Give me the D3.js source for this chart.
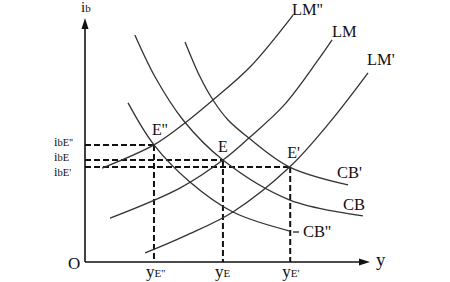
<!DOCTYPE html>
<html>
<head>
<meta charset="utf-8">
<script src="https://cdn.jsdelivr.net/npm/d3@7"></script>
<style>
  body { margin: 0; background: #fff; }
  text { font-family: "Liberation Serif", "DejaVu Serif", serif; fill: #111; }
</style>
</head>
<body>
<svg class="chart"></svg>
<script>
// Curves in chart units (x: output y, y: interest rate ib)
const lmDoublePrime = [[6.0, 38.5], [24.2, 48.0], [35.1, 57.0], [45.3, 66.8], [57.9, 79.9], [73.0, 101.2]];
const lm = [[8.8, 18.0], [33.3, 30.3], [48.4, 41.8], [57.5, 50.8], [70.0, 64.5], [81.8, 82.8], [86.7, 91.0]];
const lmPrime = [[21.1, 3.7], [35.1, 10.7], [51.9, 20.5], [71.8, 38.9], [86.0, 57.4], [99.3, 77.5]];
const cbDoublePrime = [[15.1, 65.2], [24.2, 48.0], [36.8, 32.8], [51.9, 20.5], [71.9, 12.7]];
const cb = [[17.5, 93.0], [24.6, 75.8], [34.4, 58.2], [48.4, 41.8], [71.9, 25.4], [97.5, 18.9]];
const cbPrime = [[35.1, 90.2], [40.4, 75.8], [44.9, 66.4], [50.2, 58.2], [57.5, 50.8], [71.8, 38.9], [92.3, 31.6]];

// Equilibrium points
const equilibria = [
  { name: "E''", x: 24.2, y: 48.0, sub: "E''" },
  { name: 'E', x: 48.4, y: 41.8, sub: 'E' },
  { name: "E'", x: 72.0, y: 38.9, sub: "E'" }
];

// Curve labels
const curves = [
  { data: lmDoublePrime, label: "LM''" },
  { data: lm, label: 'LM' },
  { data: lmPrime, label: "LM'" },
  { data: cbDoublePrime, label: "CB''" },
  { data: cb, label: 'CB' },
  { data: cbPrime, label: "CB'" }
];

const svgWidth = 450;
const svgHeight = 282;

const svg = d3.select('.chart')
  .attr('width', svgWidth)
  .attr('height', svgHeight);

// Origin at (85, 262), arrows at x = 370 and y = 18
const xScale = d3.scaleLinear().domain([0, 100]).range([85, 370]);
const yScale = d3.scaleLinear().domain([0, 100]).range([262, 18]);

const line = d3.line()
  .x(d => xScale(d[0]))
  .y(d => yScale(d[1]))
  .curve(d3.curveCatmullRom);

// Dashed guide lines
equilibria.forEach(d => {
  svg.append('line')
    .attr('x1', xScale(0)).attr('y1', yScale(d.y))
    .attr('x2', xScale(d.x)).attr('y2', yScale(d.y))
    .attr('stroke', '#111').attr('stroke-width', 2)
    .attr('stroke-dasharray', '6 3');
  svg.append('line')
    .attr('x1', xScale(d.x)).attr('y1', yScale(d.y))
    .attr('x2', xScale(d.x)).attr('y2', yScale(0))
    .attr('stroke', '#111').attr('stroke-width', 2)
    .attr('stroke-dasharray', '6 3');
});

// Curves
curves.forEach(c => {
  svg.append('path')
    .datum(c.data)
    .attr('fill', 'none')
    .attr('stroke', '#333')
    .attr('stroke-width', 1.3)
    .attr('d', line);
});

// Axes
svg.append('line')
  .attr('x1', xScale(0)).attr('y1', yScale(0))
  .attr('x2', xScale(0)).attr('y2', yScale(100) + 8)
  .attr('stroke', '#111').attr('stroke-width', 1.6);
svg.append('path')
  .attr('d', `M${xScale(0)},${yScale(100)} l-3.5,11 l7,0 z`)
  .attr('fill', '#111');

svg.append('line')
  .attr('x1', xScale(0)).attr('y1', yScale(0))
  .attr('x2', xScale(100) - 8).attr('y2', yScale(0))
  .attr('stroke', '#111').attr('stroke-width', 1.6);
svg.append('path')
  .attr('d', `M${xScale(100)},${yScale(0)} l-11,-3.5 l0,7 z`)
  .attr('fill', '#111');

// Axis titles
const ib = svg.append('text').attr('x', 81).attr('y', 12).attr('font-size', '15px');
ib.append('tspan').text('i');
ib.append('tspan').attr('font-size', '11px').text('b');

svg.append('text').attr('x', 68).attr('y', 269).attr('font-size', '17px').text('O');
svg.append('text').attr('x', 376).attr('y', 266).attr('font-size', '19px').text('y');

// Curve labels
const labelPos = [
  { label: "LM''", x: 292, y: 15 },
  { label: 'LM', x: 332, y: 37 },
  { label: "LM'", x: 367, y: 65 },
  { label: "CB'", x: 337, y: 178 },
  { label: 'CB', x: 343, y: 210 },
  { label: "CB''", x: 303, y: 237 }
];
labelPos.forEach(d => {
  svg.append('text')
    .attr('x', d.x).attr('y', d.y)
    .attr('font-size', '16.5px')
    .text(d.label);
});
// small leader before CB''
svg.append('line')
  .attr('x1', 293).attr('y1', 232).attr('x2', 299).attr('y2', 232)
  .attr('stroke', '#111').attr('stroke-width', 1.2);

// Equilibrium labels
const eOffsets = [[-2, -10], [-5, -8], [-3, -9]];
equilibria.forEach((d, i) => {
  svg.append('text')
    .attr('x', xScale(d.x) + eOffsets[i][0])
    .attr('y', yScale(d.y) + eOffsets[i][1])
    .attr('font-size', '16px')
    .text(d.name);
});

// Left labels ibE
const leftBaselines = [146, 161, 176];
equilibria.forEach((d, i) => {
  const t = svg.append('text').attr('x', 54).attr('y', leftBaselines[i]).attr('font-size', '12.5px');
  t.append('tspan').text('i');
  t.append('tspan').attr('font-size', '10.5px').text('b' + d.sub);
});

// Bottom labels yE
equilibria.forEach(d => {
  const t = svg.append('text').attr('x', xScale(d.x) - 8).attr('y', 277).attr('font-size', '17px');
  t.append('tspan').text('y');
  t.append('tspan').attr('font-size', '11px').text(d.sub);
});
</script>
</body>
</html>
